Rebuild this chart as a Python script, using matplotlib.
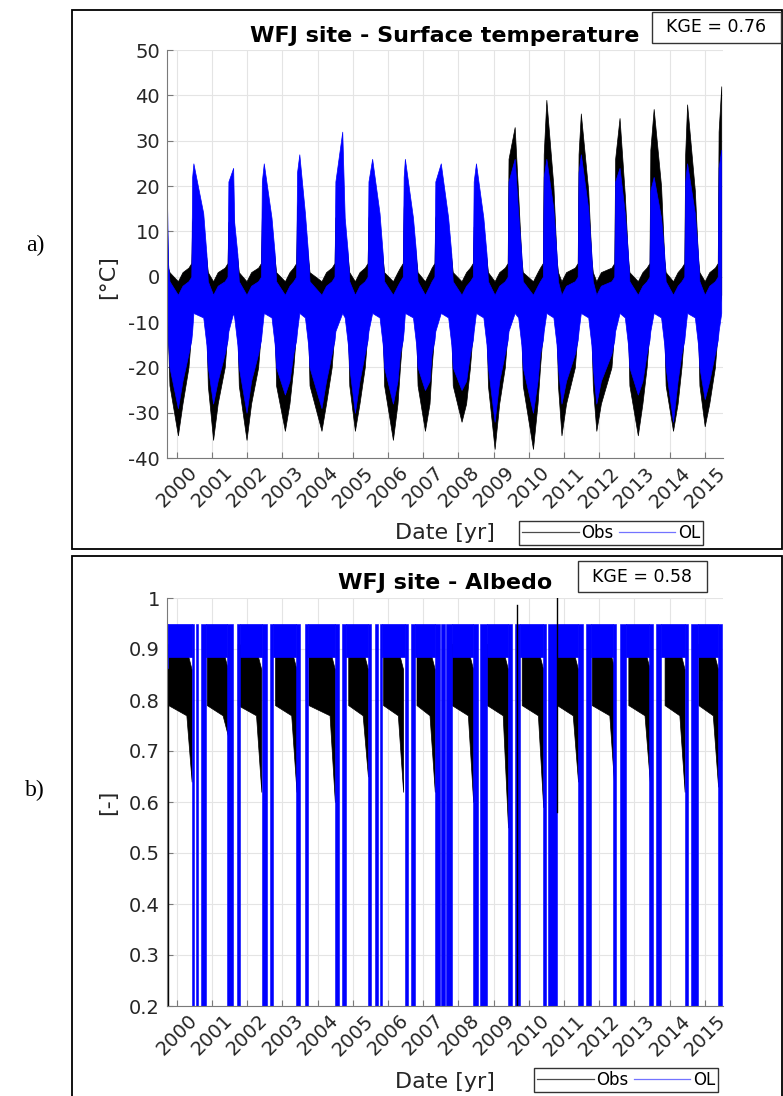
import matplotlib.pyplot as plt
import matplotlib.transforms as mtransforms
from matplotlib.patches import Rectangle
from matplotlib.lines import Line2D

W, H = 783, 1096

years = [2000, 2001, 2002, 2003, 2004, 2005, 2006, 2007,
         2008, 2009, 2010, 2011, 2012, 2013, 2014, 2015]

# ---------- a) surface temperature [degC] ----------
t_begin, t_stop = 1999.72, 2015.48
summer_start = [2000.42, 2001.45, 2002.40, 2003.40, 2004.49, 2005.43, 2006.43, 2007.33,
                2008.42, 2009.41, 2010.41, 2011.40, 2012.44, 2013.44, 2014.43, 2015.38]
summer_end = [2000.84, 2001.72, 2002.78, 2003.73, 2004.86, 2005.85, 2006.80, 2007.80,
              2008.80, 2009.79, 2010.79, 2011.78, 2012.82, 2013.85, 2014.81, 2015.48]
summer_peak = [2000.47, 2001.60, 2002.47, 2003.48, 2004.70, 2005.55, 2006.48, 2007.50,
               2008.50, 2009.60, 2010.50, 2011.48, 2012.58, 2013.55, 2014.50, 2015.47]
winter_low = [2000.03, 2001.03, 2001.98, 2003.07, 2004.11, 2005.06, 2006.14, 2007.05,
              2008.09, 2009.03, 2010.12, 2010.93, 2011.92, 2013.10, 2014.10, 2015.00]

obs_tmin = [-35, -36, -36, -34, -34, -34, -36, -34, -32, -38, -38, -35, -34, -35, -34, -33]
ol_tmin = [-29, -28, -30, -26, -29, -30, -28, -25, -25, -32, -30, -28, -28, -26, -32, -27]
obs_tmax = [14, 15, 18, 20, 17, 18, 20, 19, 12, 33, 39, 36, 35, 37, 38, 42]
ol_tmax = [25, 24, 25, 27, 32, 26, 26, 25, 25, 26, 26, 27, 24, 22, 25, 28]
obs_tband = [12, 12, 13, 15, 13, 13, 15, 13, 11, 26, 27, 27, 26, 28, 27, 32]
ol_tband = [22, 21, 21, 23, 21, 21, 22, 21, 21, 21, 22, 23, 21, 19, 21, 24]
obs_tlate = [9, 8, 9, 10, 9, 9, 10, 9, 8, 18, 20, 19, 18, 20, 19, 30]
ol_tlate = [14, 12, 13, 14, 13, 14, 13, 13, 13, 14, 15, 15, 14, 13, 14, 24]

# typical edges: autumn, deep winter, late winter, spring, pre-summer,
# summer start, summer peak, late summer, summer end
obs_season_lo = [-24, None, -28, -20, -12, -8, -4, -5, -11]
obs_season_hi = [1, -1, 1, 2, 3, None, None, None, 4]
ol_season_lo = [-20, None, -23, -17, -14, -12, -8, -9, -15]
ol_season_hi = [-1, -4, -2, -1, 0, None, None, None, 5]
obs_first = [(1999.72, 0, 12), (1999.75, -14, 2)]
ol_first = [(1999.72, -6, 17), (1999.75, -14, 3)]

# ---------- b) albedo [-] ----------
bar_start = [1999.72, 2000.42, 2000.54, 2000.70, 2001.42, 2001.70, 2002.43, 2002.64,
             2003.40, 2003.64, 2004.49, 2004.68, 2005.43, 2005.63, 2005.77, 2006.48,
             2006.64, 2007.33, 2007.52, 2007.66, 2008.42, 2008.61, 2009.41, 2009.60,
             2010.41, 2010.55, 2011.40, 2011.64, 2012.39, 2012.58, 2013.43, 2013.62,
             2014.43, 2014.62, 2015.37]
bar_end = [1999.745, 2000.48, 2000.60, 2000.82, 2001.59, 2001.79, 2002.55, 2002.72,
           2003.49, 2003.74, 2004.62, 2004.82, 2005.53, 2005.71, 2005.82, 2006.58,
           2006.77, 2007.47, 2007.61, 2007.83, 2008.56, 2008.80, 2009.51, 2009.74,
           2010.50, 2010.79, 2011.54, 2011.78, 2012.49, 2012.77, 2013.53, 2013.77,
           2014.52, 2014.81, 2015.48]
bar_top = 0.95
ol_alb_band = (0.885, 0.95)
obs_alb_lo = [0.79, 0.77]
obs_alb_hi = [0.91, 0.90, 0.86]
obs_spring_min = [0.64, 0.73, 0.62, 0.62, 0.60, 0.65, 0.62, 0.62,
                  0.60, 0.55, 0.59, 0.64, 0.62, 0.64, 0.62, 0.63]
obs_alb_spikes = [(1999.745, 0.2, 0.86), (2009.68, 0.2, 0.986), (2010.80, 0.58, 1.0)]


def temp_envelope(tmin, tmax, tband, tlate, lo_, hi_, first):
    nodes = list(first)
    prev_end = first[-1][0]
    for i in range(len(years)):
        s0, s1 = summer_start[i], summer_end[i]
        nodes += [(prev_end + 0.04, lo_[0], hi_[0]),
                  (winter_low[i], tmin[i], hi_[1]),
                  (winter_low[i] + 0.13, lo_[2], hi_[2]),
                  (s0 - 0.09, lo_[3], hi_[3]),
                  (s0 - 0.01, lo_[4], hi_[4]),
                  (s0 + 0.015, lo_[5], tband[i]),
                  (summer_peak[i], lo_[6], tmax[i])]
        if i < len(years) - 1:
            nodes += [(s1 - 0.09, lo_[7], tlate[i]),
                      (s1, lo_[8], hi_[8])]
        prev_end = s1
    nodes.sort()
    return [n[0] for n in nodes], [n[1] for n in nodes], [n[2] for n in nodes]


def style(ax, ylim, yticks, ylabels):
    ax.set_xlim(t_begin, 2015.52)
    ax.set_ylim(*ylim)
    ax.set_xticks(years)
    ax.set_xticklabels([])
    shift = mtransforms.ScaledTranslation(0.11, -0.05, fig.dpi_scale_trans)
    trans = mtransforms.blended_transform_factory(ax.transData, ax.transAxes) + shift
    for yr in years:
        ax.text(yr, 0, str(yr), transform=trans, rotation=45, ha='right', va='top',
                rotation_mode='anchor', fontsize=14, color='#262626')
    ax.set_yticks(yticks)
    ax.set_yticklabels(ylabels)
    ax.grid(True, color='#e4e4e4', lw=0.8)
    ax.set_axisbelow(True)
    for s in ['top', 'right']:
        ax.spines[s].set_visible(False)
    for s in ['left', 'bottom']:
        ax.spines[s].set_color('#7a7a7a')
    ax.tick_params(direction='in', length=4, labelsize=14, colors='#262626', pad=5)
    ax.tick_params(axis='x', color='#7a7a7a')
    ax.tick_params(axis='y', color='#7a7a7a')


def panel_text(title, ytop, kge, kge_box, label_y, ylabel, ycenter, leg_x, xlab_y, leg_y):
    fig.text(445 / W, 1 - ytop / H, title, ha='center', va='center',
             fontsize=16, fontweight='bold')
    x0, y0, x1, y1 = kge_box
    fig.patches.append(Rectangle((x0 / W, 1 - y1 / H), (x1 - x0) / W, (y1 - y0) / H,
                                 transform=fig.transFigure, fill=False, ec='#333333', lw=1))
    fig.text((x0 + x1) / 2 / W, 1 - (y0 + y1) / 2 / H, kge, ha='center', va='center',
             fontsize=12.5)
    fig.text(35 / W, 1 - label_y / H, ylabel[0], ha='center', va='center',
             fontsize=17, family='Liberation Serif')
    fig.text(108 / W, 1 - ycenter / H, ylabel[1], ha='center', va='center', rotation=90,
             fontsize=16, color='#262626')
    fig.text(445 / W, 1 - xlab_y / H, 'Date [yr]', ha='center', va='center',
             fontsize=16, color='#262626')
    handles = [Line2D([], [], color='k', lw=0.9, alpha=0.7),
               Line2D([], [], color='b', lw=0.9, alpha=0.55)]
    fig.legend(handles, ['Obs', 'OL'], ncol=2, loc='center',
               bbox_to_anchor=(leg_x / W, 1 - leg_y / H), fontsize=12,
               frameon=True, fancybox=False, edgecolor='#333333', framealpha=1,
               handlelength=3.4, handletextpad=0.15, columnspacing=0.3,
               borderpad=0.2, borderaxespad=0)


fig = plt.figure(figsize=(W / 100, H / 100), dpi=100)

# ---- panel a
ax1 = fig.add_axes([167 / W, 1 - 458 / H, 556 / W, 408 / H])
t, lo, hi = temp_envelope(obs_tmin, obs_tmax, obs_tband, obs_tlate,
                          obs_season_lo, obs_season_hi, obs_first)
ax1.fill_between(t, lo, hi, color='k', lw=0.5)
t, lo, hi = temp_envelope(ol_tmin, ol_tmax, ol_tband, ol_tlate,
                          ol_season_lo, ol_season_hi, ol_first)
ax1.fill_between(t, lo, hi, color='b', lw=0.5)
style(ax1, (-40, 50), range(-40, 51, 10), [str(v) for v in range(-40, 51, 10)])

# ---- panel b
ax2 = fig.add_axes([167 / W, 1 - 1006 / H, 556 / W, 408 / H])
starts = [bar_end[0]] + [summer_end[i] for i in range(len(years) - 1)]
for i in range(len(years)):
    a, b = starts[i] + 0.01, summer_start[i]
    ax2.fill_between([a, b - 0.15, b], obs_alb_lo + [obs_spring_min[i]], obs_alb_hi,
                     color='k', lw=0.5)
for x, y0, y1 in obs_alb_spikes:
    ax2.plot([x, x], [y0, y1], color='k', lw=1)
prev = bar_end[0]
for s, e in zip(bar_start[1:], bar_end[1:]):
    if s - prev > 0.3:
        ax2.fill_between([prev, s], ol_alb_band[0], ol_alb_band[1], color='b', lw=0.5)
    prev = e
ax2.bar(bar_start, [bar_top] * len(bar_start),
        width=[e - s for s, e in zip(bar_start, bar_end)], align='edge',
        color='b', lw=0.4, edgecolor='b')
style(ax2, (0.2, 1.0), [0.2, 0.3, 0.4, 0.5, 0.6, 0.7, 0.8, 0.9, 1.0],
      ['0.2', '0.3', '0.4', '0.5', '0.6', '0.7', '0.8', '0.9', '1'])

# ---- frames and labels
fig.patches.append(Rectangle((72 / W, 1 - 549 / H), 710 / W, 539 / H,
                             transform=fig.transFigure, fill=False, ec='k', lw=1.3))
fig.patches.append(Rectangle((72 / W, -0.01), 710 / W, (1096 - 556) / H + 0.01,
                             transform=fig.transFigure, fill=False, ec='k', lw=1.3))
panel_text('WFJ site - Surface temperature', 36, 'KGE = 0.76', (652, 12, 781, 43),
           245, ('a)', '[°C]'), 277, 611, 533, 533)
panel_text('WFJ site - Albedo', 583, 'KGE = 0.58', (578, 561, 707, 592),
           790, ('b)', '[-]'), 802, 626, 1082, 1080)

fig.savefig('out.png', dpi=100)
